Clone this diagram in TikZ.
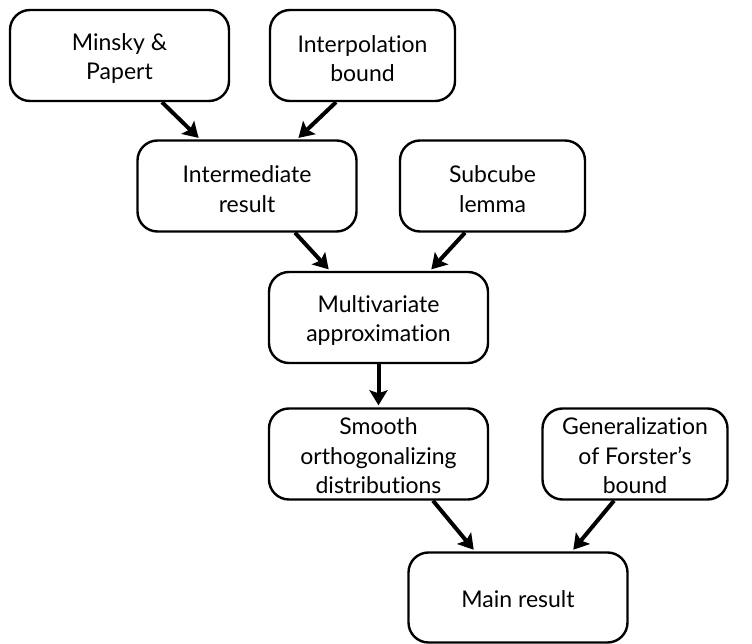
\documentclass[tikz,border=0pt]{standalone}
\usepackage{fontspec}
\setmainfont{Lato}[Ligatures={NoCommon}]
\usetikzlibrary{arrows.meta,calc}
\begin{document}
\begin{tikzpicture}[x=1pt,y=-1pt,
  box/.style={draw=black, line width=2.4pt, rounded corners=20pt, inner sep=0pt},
  boxA/.style={box, minimum width=219pt, minimum height=91pt},
  boxB/.style={box, minimum width=185pt, minimum height=91pt},
  txt/.style={align=center, font=\fontsize{23}{29.5}\selectfont, inner sep=0pt},
  arr/.style={line width=4pt, -{Stealth[length=15pt,width=18pt,inset=3pt]}, shorten >=2pt}]
\useasboundingbox (0,0) rectangle (752,644);
\node[boxA] (mp) at (119.5,55.5) {};
\node[boxB] (ib) at (362.5,55.5) {};
\node[boxA] (ir) at (247,186) {};
\node[boxB] (sl) at (492.5,186) {};
\node[boxA] (ma) at (378.5,317.5) {};
\node[boxA] (so) at (378.5,454) {};
\node[boxB] (gf) at (635,454) {};
\node[boxA, minimum height=90pt] (mr) at (518,597.5) {};
\node[txt] (mpt) at ([yshift=-3pt]mp.center) {Minsky \&\\Papert};
\node[txt] (ibt) at ([yshift=-3pt]ib.center) {Interpolation\\bound};
\node[txt] (irt) at ([yshift=-3pt]ir.center) {Intermediate\\result};
\node[txt] (slt) at ([yshift=-3pt]sl.center) {Subcube\\lemma};
\node[txt] (mat) at ([yshift=-3pt]ma.center) {Multivariate\\approximation};
\node[txt] (sot) at ([yshift=-2pt]so.center) {Smooth\\orthogonalizing\\distributions};
\node[txt] (gft) at ([yshift=-2pt]gf.center) {Generalization\\of Forster’s\\bound};
\node[txt] (mrt) at ([yshift=-2pt]mr.center) {Main result};
\draw[arr] ([xshift=42.5pt]mp.south) -- ([xshift=-47pt]ir.north);
\draw[arr] ([xshift=-26.5pt]ib.south) -- ([xshift=50pt]ir.north);
\draw[arr] ([xshift=48pt]ir.south) -- ([xshift=-48.5pt]ma.north);
\draw[arr] ([xshift=-27.5pt]sl.south) -- ([xshift=51.5pt]ma.north);
\draw[arr] (ma.south) -- (so.north);
\draw[arr] ([xshift=54.5pt]so.south) -- ([xshift=-43pt]mr.north);
\draw[arr] ([xshift=-21pt]gf.south) -- ([xshift=54pt]mr.north);
\end{tikzpicture}
\end{document}
